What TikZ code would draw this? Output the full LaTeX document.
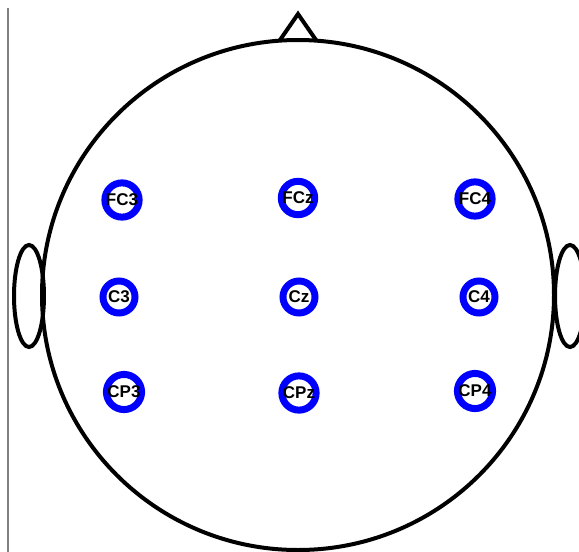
\documentclass[tikz,border=0pt]{standalone}
\usepackage{fontspec}
\setmainfont{Liberation Sans}
\begin{document}
\begin{tikzpicture}[x=1pt,y=-1pt,
  elec/.style={circle,draw=blue,line width=7pt,fill=white,minimum size=32pt,inner sep=0pt,
     font=\fontsize{17pt}{18pt}\selectfont\bfseries,text=black},
  headline/.style={line width=4pt,black}]
\useasboundingbox (0,0) rectangle (579,552);
\draw[gray,line width=1.5pt] (8,8) -- (8,552);
\draw[headline,fill=white] (298,295) ellipse [x radius=256,y radius=255];
\draw[headline,line join=miter] (280,40) -- (298,14) -- (316,40);
\draw[headline] (29,296) ellipse [x radius=15,y radius=51];
\draw[headline] (570,296) ellipse [x radius=15,y radius=51];
\node[elec] (FC3) at (122,200) {FC3};
\node[elec] (FCz) at (298,198) {FCz};
\node[elec] (FC4) at (475,199) {FC4};
\node[elec] (C3) at (119,297) {C3};
\node[elec] (Cz) at (299,297) {Cz};
\node[elec] (C4) at (479,297) {C4};
\node[elec] (CP3) at (124,392) {CP3};
\node[elec] (CPz) at (299,393) {CPz};
\node[elec] (CP4) at (475,391) {CP4};
\end{tikzpicture}
\end{document}
